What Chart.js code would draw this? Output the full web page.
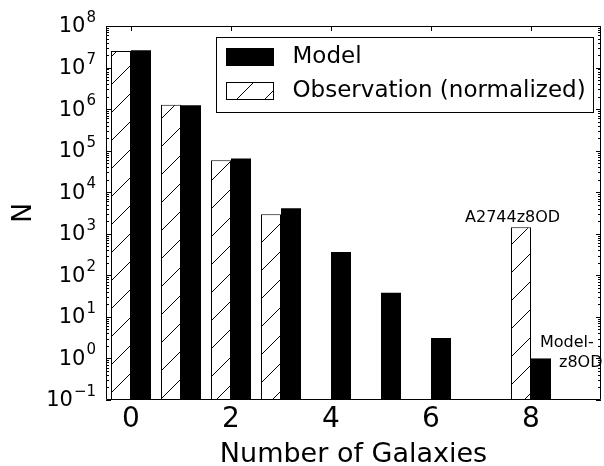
<!DOCTYPE html>
<html>
<head>
<meta charset="utf-8">
<script src="https://cdn.jsdelivr.net/npm/chart.js@4.4.1/dist/chart.umd.min.js"></script>
<style>
  html, body { margin: 0; padding: 0; background: #fff; }
  canvas { display: block; }
</style>
</head>
<body>
<canvas id="myChart" width="604" height="466"></canvas>
<script>
'use strict';

// values
const modelGalaxies = [0, 1, 2, 3, 4, 5, 6, 8];
const modelCounts = [2.6e7, 1.24e6, 6.5e4, 4.1e3, 365, 38, 3.1, 1.0];
const obsGalaxies = [0, 1, 2, 3, 8];
const obsCounts = [2.5e7, 1.28e6, 5.9e4, 2.95e3, 1430];

const xTickValues = [0, 2, 4, 6, 8];
const xTickLabels = ['0', '2', '4', '6', '8'];
const yTickValues = [1e-1, 1e0, 1e1, 1e2, 1e3, 1e4, 1e5, 1e6, 1e7, 1e8];
const yTickExponents = ['\u22121', '0', '1', '2', '3', '4', '5', '6', '7', '8'];

const noteTexts = ['A2744z8OD', 'Model-', 'z8OD'];
const noteX = [6.68, 8.18, 8.56];
const noteY = [1.9e3, 1.9, 0.62];

Chart.defaults.font.family = '"DejaVu Sans", sans-serif';
Chart.defaults.color = '#000';

function makeHatch() {
  const size = 28;
  const c = document.createElement('canvas');
  c.width = size;
  c.height = size;
  const g = c.getContext('2d');
  g.fillStyle = '#fff';
  g.fillRect(0, 0, size, size);
  g.strokeStyle = '#000';
  g.lineWidth = 1;
  g.beginPath();
  g.moveTo(-2, size + 2);
  g.lineTo(size + 2, -2);
  g.moveTo(-2, 2);
  g.lineTo(2, -2);
  g.moveTo(size - 2, size + 2);
  g.lineTo(size + 2, size - 2);
  g.stroke();
  return g.createPattern(c, 'repeat');
}

const canvasChart = document.getElementById('myChart');
const hatch = makeHatch();

const framePlugin = {
  id: 'frame',
  afterDraw(chart) {
    const ctx = chart.ctx;
    const a = chart.chartArea;
    const x = chart.scales.x;
    const y = chart.scales.y;
    ctx.save();
    ctx.setLineDash([]);
    ctx.globalAlpha = 1;
    ctx.strokeStyle = '#000000';
    ctx.lineWidth = 1;

    // box round the plot
    ctx.beginPath();
    ctx.rect(a.left + 0.5, a.top + 0.5, a.right - a.left - 1, a.bottom - a.top - 1);
    ctx.stroke();

    // y ticks, major and minor, inward on both sides
    ctx.beginPath();
    for (let k = -1; k <= 8; k++) {
      for (let m = 1; m <= 9; m++) {
        const v = m * Math.pow(10, k);
        if (v > y.max * 1.0001) break;
        const py = Math.round(y.getPixelForValue(v)) + 0.5;
        const len = m === 1 ? 5 : 3;
        ctx.moveTo(a.left, py);
        ctx.lineTo(a.left + len, py);
        ctx.moveTo(a.right, py);
        ctx.lineTo(a.right - len, py);
      }
    }
    // x ticks, top and bottom
    for (const v of xTickValues) {
      const px = Math.round(x.getPixelForValue(v)) + 0.5;
      ctx.moveTo(px, a.bottom);
      ctx.lineTo(px, a.bottom - 5);
      ctx.moveTo(px, a.top);
      ctx.lineTo(px, a.top + 5);
    }
    ctx.stroke();

    // y tick labels as 10 with a raised exponent
    ctx.fillStyle = '#000';
    ctx.textAlign = 'right';
    y.ticks.forEach((t, i) => {
      const py = y.getPixelForValue(t.value);
      const xr = a.left - 10;
      ctx.font = '15px "DejaVu Sans"';
      ctx.textBaseline = 'alphabetic';
      const ew = ctx.measureText(yTickExponents[i]).width;
      ctx.fillText(yTickExponents[i], xr, py - 4);
      ctx.font = '21px "DejaVu Sans"';
      ctx.textBaseline = 'middle';
      ctx.fillText('10', xr - ew - 1, py + 1);
    });

    // labels beside the A2744 and model bars
    ctx.font = '16px "DejaVu Sans"';
    ctx.textAlign = 'left';
    ctx.textBaseline = 'alphabetic';
    for (let i = 0; i < noteTexts.length; i++) {
      ctx.fillText(noteTexts[i], x.getPixelForValue(noteX[i]), y.getPixelForValue(noteY[i]));
    }

    // legend box in the upper right of the plot
    const order = [1, 0];
    ctx.font = '23px "DejaVu Sans"';
    let textW = 0;
    for (const i of order) {
      textW = Math.max(textW, ctx.measureText(chart.data.datasets[i].label).width);
    }
    const swW = 47, swH = 17, rowH = 34;
    const boxW = Math.round(10 + swW + 19 + textW + 8);
    const boxH = 75;
    const bx = Math.round(a.right - 8 - boxW) + 0.5;
    const by = a.top + 11.5;
    ctx.fillStyle = '#fff';
    ctx.fillRect(bx, by, boxW, boxH);
    ctx.strokeRect(bx, by, boxW, boxH);
    ctx.textBaseline = 'middle';
    order.forEach((i, row) => {
      const ds = chart.data.datasets[i];
      const cy = by + 19 + row * rowH;
      const sx = bx + 10;
      const sy = Math.round(cy - swH / 2) + 0.5;
      ctx.fillStyle = ds.backgroundColor;
      ctx.fillRect(sx, sy, swW, swH);
      ctx.strokeRect(sx, sy, swW, swH);
      ctx.fillStyle = '#000';
      ctx.fillText(ds.label, sx + swW + 19, cy + 1);
    });
    ctx.restore();
  }
};

const data = {
  datasets: [{
    label: 'Observation (normalized)',
    data: obsGalaxies.map((g, i) => ({x: g, y: obsCounts[i]})),
    backgroundColor: hatch,
    borderColor: '#000',
    borderWidth: 1,
    borderSkipped: 'bottom'
  },
  {
    label: 'Model',
    data: modelGalaxies.map((g, i) => ({x: g, y: modelCounts[i]})),
    backgroundColor: '#000',
    borderColor: '#000',
    borderWidth: 0
  }]
};

const config = {
  type: 'bar',
  data: data,
  options: {
    responsive: false,
    animation: false,
    categoryPercentage: 0.8,
    barPercentage: 1.0,
    layout: {
      padding: {top: 26, right: 3, left: 0, bottom: 0}
    },
    plugins: {
      legend: {display: false},
      tooltip: {enabled: false}
    },
    scales: {
      x: {
        type: 'linear',
        offset: false,
        min: -0.5,
        max: 9.4,
        grid: {display: false, drawTicks: false},
        border: {display: false},
        afterBuildTicks: s => { s.ticks = xTickValues.map(v => ({value: v})); },
        afterFit: s => { s.height = 66; },
        ticks: {
          autoSkip: false,
          maxRotation: 0,
          padding: 3,
          font: {size: 28},
          callback: (v, i) => xTickLabels[i]
        },
        title: {
          display: true,
          text: 'Number of Galaxies',
          font: {size: 27, lineHeight: 0.8},
          padding: {top: 0, bottom: 0}
        }
      },
      y: {
        type: 'logarithmic',
        min: 0.1,
        max: 1e8,
        grid: {display: false, drawTicks: false},
        border: {display: false},
        afterBuildTicks: s => { s.ticks = yTickValues.map(v => ({value: v, major: true})); },
        afterFit: s => { s.width = 106; },
        ticks: {
          display: false
        },
        title: {
          display: true,
          text: 'N',
          font: {size: 27},
          padding: {top: 8, bottom: 0}
        }
      }
    }
  },
  plugins: [framePlugin]
};

const myChart = new Chart(canvasChart, config);
</script>
</body>
</html>
